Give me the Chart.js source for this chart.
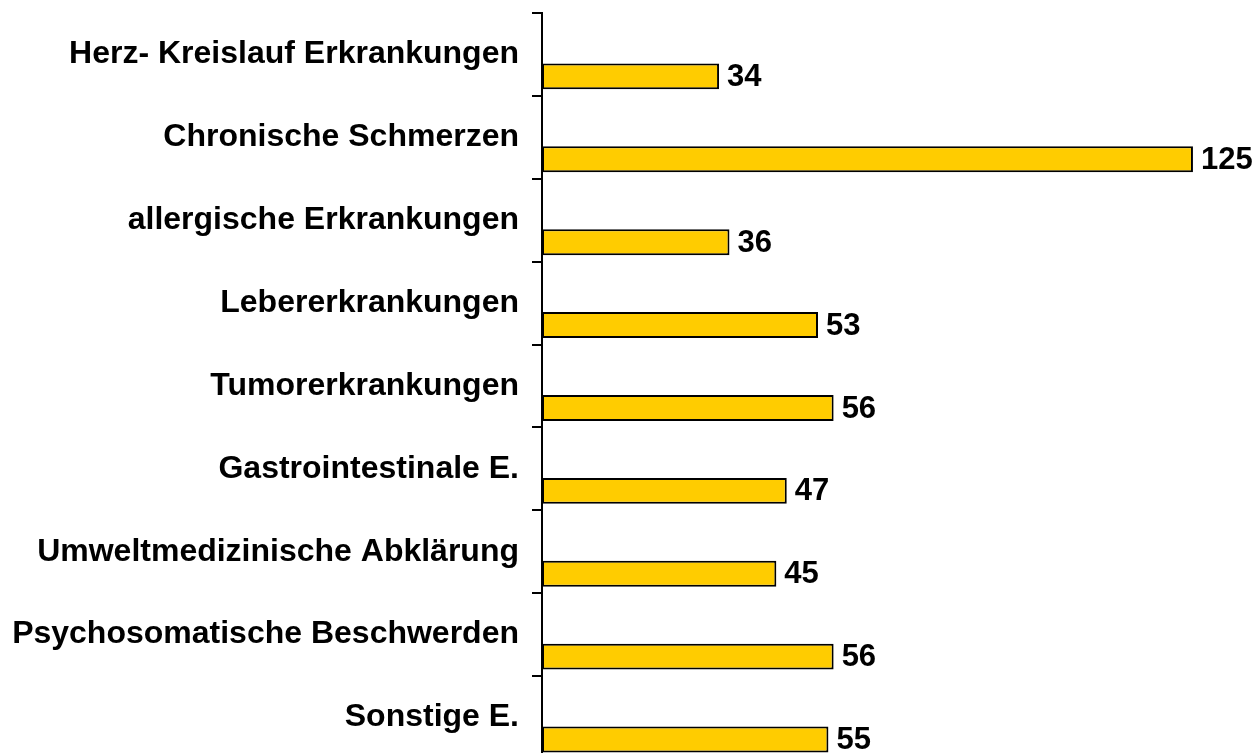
<!DOCTYPE html>
<html>
<head>
<meta charset="utf-8">
<script src="https://cdn.jsdelivr.net/npm/chart.js@4"></script>
<style>
  html, body { margin: 0; padding: 0; background: #fff; overflow: hidden; }
</style>
</head>
<body>
<canvas id="diagnosenChart" width="1258" height="770"></canvas>
<script>
const categories = [
    'Herz- Kreislauf Erkrankungen',
    'Chronische Schmerzen',
    'allergische Erkrankungen',
    'Lebererkrankungen',
    'Tumorerkrankungen',
    'Gastrointestinale E.',
    'Umweltmedizinische Abklärung',
    'Psychosomatische Beschwerden',
    'Sonstige E.'
];
const values = [34, 125, 36, 53, 56, 47, 45, 56, 55];
const emptySeries = [null, null, null, null, null, null, null, null, null];

// zahlen rechts neben den balken
const valueLabels = {
    id: 'valueLabels',
    afterDatasetsDraw(chart) {
        const c = chart.ctx;
        const meta = chart.getDatasetMeta(1);
        c.save();
        c.font = 'bold 31px "Liberation Sans", Arial, sans-serif';
        c.fillStyle = '#000';
        c.textAlign = 'left';
        c.textBaseline = 'middle';
        meta.data.forEach((bar, i) => {
            c.fillText(String(values[i]), bar.x + 8, bar.y + 1);
        });
        c.restore();
    }
};

const ctx = document.getElementById('diagnosenChart').getContext('2d');
const diagnosenChart = new Chart(ctx, {
    type: 'bar',
    data: {
        labels: categories,
        datasets: [{
            data: emptySeries,
            backgroundColor: 'rgba(0,0,0,0)'
        }, {
            data: values,
            backgroundColor: '#FFCC00',
            borderColor: '#000',
            borderWidth: 2,
            borderSkipped: false
        }]
    },
    options: {
        indexAxis: 'y',
        responsive: false,
        animation: false,
        datasets: {
            bar: {
                categoryPercentage: 1.06,
                barPercentage: 0.59
            }
        },
        layout: {
            padding: { top: 13, bottom: 11, left: 0, right: 39 }
        },
        plugins: {
            legend: { display: false },
            tooltip: { enabled: false }
        },
        scales: {
            x: {
                display: false,
                min: 0,
                max: 130
            },
            y: {
                grid: {
                    drawOnChartArea: false,
                    color: '#000',
                    lineWidth: 2,
                    tickLength: 10
                },
                border: { color: '#000', width: 2 },
                ticks: {
                    color: '#000',
                    padding: 13,
                    font: { family: '"Liberation Sans", Arial, sans-serif', weight: 'bold', size: 32 }
                },
                afterFit: s => {
                    s.width = 542;
                    s.paddingTop = 0;
                    s.paddingBottom = 0;
                }
            }
        }
    },
    plugins: [valueLabels]
});
</script>
</body>
</html>
